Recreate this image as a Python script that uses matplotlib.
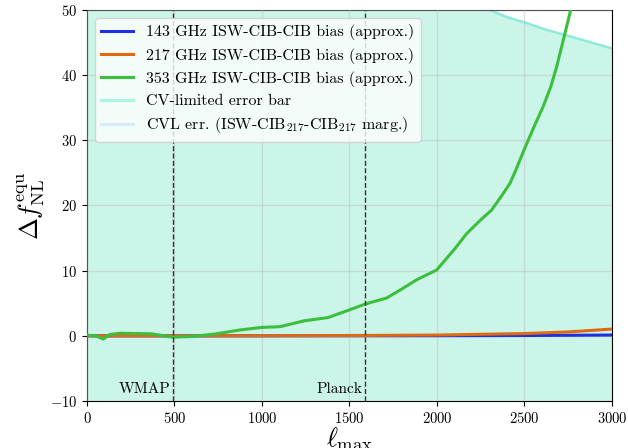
import numpy as np
import matplotlib
matplotlib.use("Agg")
import matplotlib.pyplot as plt
from matplotlib.lines import Line2D

plt.rcParams["font.family"] = "serif"
plt.rcParams["font.serif"] = ["cmr10"]
plt.rcParams["mathtext.fontset"] = "cm"
plt.rcParams["axes.formatter.use_mathtext"] = True
plt.rcParams["axes.unicode_minus"] = True

# ISW-CIB-CIB bias on equilateral fNL versus lmax
ell_353 = [0, 50, 93, 130, 189, 371, 486, 600, 737, 874, 1000, 1103, 1240, 1377,
           1491, 1592, 1712, 1800, 1884, 1998, 2100, 2170, 2250, 2312, 2370, 2417,
           2450, 2497, 2550, 2607, 2650, 2684, 2731, 2764, 2800]
bias_353 = [0.1, 0.0, -0.5, 0.2, 0.4, 0.3, -0.2, -0.1, 0.3, 0.9, 1.3, 1.4, 2.3, 2.8,
            3.9, 4.9, 5.8, 7.2, 8.6, 10.1, 13.3, 15.7, 17.8, 19.3, 21.5, 23.4,
            25.4, 28.5, 31.8, 35.2, 38.2, 41.3, 46.4, 50.0, 55.0]

ell_217 = [0, 500, 1000, 1500, 2000, 2500, 2750, 3000]
bias_217 = [0.0, 0.0, 0.02, 0.05, 0.12, 0.35, 0.6, 1.04]

ell_143 = [0, 1000, 2000, 2500, 3000]
bias_143 = [0.0, 0.0, 0.02, 0.05, 0.12]

# cosmic-variance-limited 1-sigma error
ell_cv = [2, 100, 300, 500, 800, 1000, 1500, 2000, 2200, 2303, 2400, 2512, 2620,
          2741, 2870, 3000]
sigma_cv = [5000, 800, 300, 200, 120, 95, 68, 57, 52.5, 50.0, 48.9, 48.0, 47.0,
            46.1, 45.1, 44.1]

ell_wmap = 490
ell_planck = 1590

fig = plt.figure(figsize=(6.28, 4.48), dpi=100)
ax = fig.add_axes([0.1385, 0.1049, 0.836, 0.8728])

ax.fill_between(ell_cv, -np.array(sigma_cv), sigma_cv, color="#ccf5ea", lw=0, zorder=1)
ax.plot(ell_cv, sigma_cv, color="#8eebd8", lw=1.8, zorder=2)

ax.plot(ell_143, bias_143, color="#2030e0", lw=2.2, zorder=4)
ax.plot(ell_217, bias_217, color="#e06a12", lw=2.2, zorder=5)
ax.plot(ell_353, bias_353, color="#3cbf3c", lw=2.2, zorder=6, solid_joinstyle="round")

ax.axvline(ell_wmap, color="#333333", ls="--", lw=1.0, zorder=7)
ax.axvline(ell_planck, color="#333333", ls="--", lw=1.0, zorder=7)
ax.text(ell_wmap - 15, -9.3, "WMAP", ha="right", va="bottom", fontsize=11)
ax.text(ell_planck - 15, -9.3, "Planck", ha="right", va="bottom", fontsize=11)

ax.set_xlim(0, 3000)
ax.set_ylim(-10, 50)
ax.set_xticks([0, 500, 1000, 1500, 2000, 2500, 3000])
ax.set_yticks([-10, 0, 10, 20, 30, 40, 50])
ax.grid(True, color="#bbbbbb", alpha=0.45, lw=1.0, zorder=0)
ax.set_axisbelow(False)
for gl in ax.get_xgridlines() + ax.get_ygridlines():
    gl.set_zorder(1.5)
ax.tick_params(labelsize=10.5)

ax.set_xlabel(r"$\ell_{\max}$", fontsize=19, labelpad=0)
ax.set_ylabel(r"$\Delta f_{\rm NL}^{\rm equ}$", fontsize=19, labelpad=2)

handles = [
    Line2D([], [], color="#2030e0", lw=2.2),
    Line2D([], [], color="#e06a12", lw=2.2),
    Line2D([], [], color="#3cbf3c", lw=2.2),
    Line2D([], [], color="#a8f5e0", lw=2.2),
    Line2D([], [], color="#d4ecf8", lw=2.2),
]
labels = [
    "143 GHz ISW-CIB-CIB bias (approx.)",
    "217 GHz ISW-CIB-CIB bias (approx.)",
    "353 GHz ISW-CIB-CIB bias (approx.)",
    "CV-limited error bar",
    r"CVL err. (ISW-CIB$_{217}$-CIB$_{217}$ marg.)",
]
leg = ax.legend(handles, labels, loc="upper left", fontsize=11.5, framealpha=0.8,
                borderaxespad=0.5, handlelength=2.0, labelspacing=0.45)
leg.set_zorder(10)

fig.savefig("out.png", dpi=100)
